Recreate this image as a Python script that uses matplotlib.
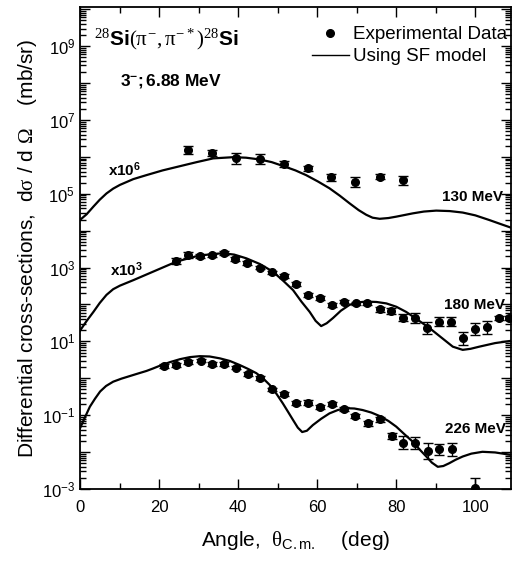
import numpy as np
import matplotlib
matplotlib.use('Agg')
import matplotlib.pyplot as plt
from matplotlib.lines import Line2D
from matplotlib.ticker import FixedLocator, LogLocator, FuncFormatter, MultipleLocator

plt.rcParams['font.family'] = 'Liberation Sans'
plt.rcParams['mathtext.fontset'] = 'custom'
plt.rcParams['mathtext.rm'] = 'Liberation Serif'
plt.rcParams['mathtext.it'] = 'Liberation Serif'
plt.rcParams['mathtext.bf'] = 'Liberation Sans:bold'
plt.rcParams['mathtext.sf'] = 'Liberation Sans'

# experimental data (130 MeV scaled x1e6, 180 MeV scaled x1e3)
x130 = [27.2, 33.4, 39.4, 45.5, 51.5, 57.6, 63.6, 69.6, 75.8, 81.6]
y130 = [1.55e6, 1.26e6, 9.1e5, 8.7e5, 6.3e5, 4.9e5, 2.8e5, 2.1e5, 2.9e5, 2.3e5]
e130 = [0.11, 0.08, 0.14, 0.14, 0.08, 0.06, 0.10, 0.13, 0.07, 0.12]   # dex

x180 = [24.4, 27.2, 30.3, 33.4, 36.4, 39.3, 42.3, 45.5, 48.6, 51.6, 54.7, 57.7,
        60.6, 63.7, 66.7, 69.7, 72.6, 75.8, 78.7, 81.6, 84.8, 87.8, 90.9, 93.9,
        97.0, 99.9, 102.9, 105.9, 108.6]
y180 = [1550, 2190, 2040, 2140, 2450, 1700, 1350, 1000, 740, 600, 355, 182,
        148, 98, 120, 107, 107, 74, 66, 44, 43, 23.4, 34, 34,
        12.0, 21.4, 24, 43, 43]
e180 = [0.08, 0.07, 0.06, 0.05, 0.05, 0.05, 0.05, 0.05, 0.05, 0.05, 0.05, 0.06,
        0.06, 0.06, 0.05, 0.05, 0.05, 0.07, 0.08, 0.10, 0.13, 0.16, 0.12, 0.12,
        0.18, 0.16, 0.17, 0.05, 0.05]

x226 = [21.2, 24.2, 27.2, 30.5, 33.4, 36.4, 39.4, 42.5, 45.5, 48.5, 51.7, 54.7,
        57.7, 60.6, 63.7, 66.8, 69.6, 72.9, 75.9, 78.9, 81.8, 84.8, 88.0, 90.9,
        94.0, 100.0]
y226 = [2.19, 2.29, 2.82, 3.02, 2.45, 2.40, 1.95, 1.32, 1.00, 0.50, 0.38, 0.21,
        0.22, 0.17, 0.20, 0.145, 0.095, 0.060, 0.078, 0.028, 0.018, 0.018, 0.0107, 0.012,
        0.012, 0.00105]
e226 = [0.05, 0.05, 0.05, 0.05, 0.05, 0.05, 0.05, 0.05, 0.05, 0.05, 0.05, 0.05,
        0.06, 0.05, 0.05, 0.05, 0.06, 0.06, 0.07, 0.08, 0.18, 0.16, 0.21, 0.15,
        0.18, 0.27]

# SF model curves
cx130 = [0, 1.7, 3.4, 5.0, 6.7, 8.4, 10.1, 13.5, 16.8, 20.9, 25.3, 29.5, 33.7, 38.7, 42.0,
         45.5, 48.5, 51.5, 54.5, 57.2, 60.2, 63.1, 65.7, 68.2, 70.5, 72.4, 74.0,
         75.8, 78.0, 80.0, 84.2, 87.0, 90.1, 93.5, 96.8, 100.0, 103.5, 106.5, 109.4]
cy130 = [1.95e4, 2.8e4, 4.5e4, 6.9e4, 1.02e5, 1.38e5, 1.74e5, 2.5e5, 3.2e5, 4.3e5, 5.6e5,
         7.2e5, 9.1e5, 9.8e5, 9.5e5, 8.5e5, 7.2e5, 5.6e5, 4.3e5, 3.2e5, 2.15e5, 1.41e5,
         8.9e4, 5.5e4, 3.6e4, 2.7e4, 2.25e4, 2.1e4, 2.2e4, 2.4e4, 2.95e4, 3.3e4, 3.5e4,
         3.4e4, 3.1e4, 2.6e4, 1.95e4, 1.5e4, 1.17e4]

cx180 = [0, 1.7, 3.4, 5.0, 6.7, 8.4, 10.1, 13.5, 18.5, 24.4, 29.5, 33.0, 36.2, 39.0,
         42.1, 45.5, 48.8, 51.5, 53.9, 56.0, 58.1, 59.6, 61.0, 62.4, 64.0, 66.0, 68.2,
         70.2, 72.4, 75.0, 77.5, 80.0, 82.5, 85.5, 88.4, 91.5, 94.3, 96.8, 98.8, 101.0,
         105.0, 109.4]
cy180 = [19.5, 36, 63, 110, 182, 260, 324, 457, 776, 1450, 2040, 2300, 2450, 2250,
         1780, 1250, 776, 430, 245, 120, 63, 36, 26, 31, 43, 68, 98, 114, 120, 117,
         107, 87, 63, 38, 23, 12.5, 7.2, 5.9, 6.3, 7.2, 9.0, 10.5]

cx226 = [0, 1.2, 2.5, 3.8, 5.1, 6.6, 8.4, 10.5, 12.6, 14.7, 16.8, 18.5, 20.2, 22.8, 25.3,
         27.8, 30.3, 32.8, 35.4, 37.9, 40.4, 42.5, 44.6, 46.3, 48.0, 49.7, 51.3, 52.7,
         53.9, 55.1, 56.2, 57.4, 58.9, 61.0, 63.1, 65.2, 67.3, 69.4, 71.5, 73.7, 75.8,
         78.0, 80.0, 82.0, 84.2, 86.0, 87.6, 89.0, 90.5, 91.9, 93.4, 95.0, 96.8, 99.0,
         101.8, 105.0, 109.4]
cy226 = [0.044, 0.085, 0.17, 0.28, 0.44, 0.62, 0.81, 0.98, 1.15, 1.35, 1.58, 1.85, 2.19,
         2.75, 3.3, 3.75, 3.98, 3.9, 3.47, 2.95, 2.29, 1.8, 1.38, 1.0, 0.66, 0.38, 0.21,
         0.12, 0.074, 0.046, 0.035, 0.038, 0.054, 0.08, 0.112, 0.138, 0.155, 0.152,
         0.138, 0.118, 0.095, 0.07, 0.049, 0.031, 0.019, 0.0115, 0.0076, 0.0052, 0.0040,
         0.0042, 0.0050, 0.0062, 0.0076, 0.0091, 0.0102, 0.0098, 0.0083]

fig = plt.figure(figsize=(5.14, 5.61), dpi=100)
ax = fig.add_axes([0.1556, 0.1283, 0.994 - 0.1556, 0.9875 - 0.1283])


def errbars(x, y, e):
    y = np.array(y)
    e = np.array(e)
    lo = y - y * 10 ** (-e)
    hi = y * 10 ** e - y
    ax.errorbar(x, y, yerr=[lo, hi], fmt='o', color='black', ms=5.5,
                elinewidth=1.0, capsize=3.5, capthick=1.0, zorder=3)


for cx, cy in [(cx130, cy130), (cx180, cy180), (cx226, cy226)]:
    ax.plot(cx, cy, color='black', lw=1.6, zorder=2)

errbars(x130, y130, e130)
errbars(x180, y180, e180)
errbars(x226, y226, e226)

ax.set_yscale('log')
ax.set_xlim(0, 109)
ax.set_ylim(1e-3, 1.15e10)

ax.xaxis.set_major_locator(MultipleLocator(20))
ax.xaxis.set_minor_locator(MultipleLocator(10))
ax.yaxis.set_major_locator(FixedLocator([10.0 ** k for k in range(-3, 11)]))
ax.yaxis.set_minor_locator(LogLocator(base=10, subs=np.arange(2, 10), numticks=30))


def ylab(v, pos):
    k = int(round(np.log10(v)))
    if k % 2 == 0:
        return ''
    return r'$\mathsf{10^{%d}}$' % k


ax.yaxis.set_major_formatter(FuncFormatter(ylab))
ax.yaxis.set_minor_formatter(FuncFormatter(lambda v, p: ''))

ax.tick_params(which='both', direction='in', top=True, right=True, labelsize=12, width=1.0)
ax.tick_params(which='major', length=7)
ax.tick_params(which='minor', length=4)
ax.tick_params(axis='x', pad=8)
for s in ax.spines.values():
    s.set_linewidth(1.3)

ax.set_xlabel(r'Angle,  $\theta_{\mathsf{C.m.}}$    (deg)', fontsize=15, labelpad=10)
ax.set_ylabel(r'Differential cross-sections,  d$\sigma$ / d $\Omega$    (mb/sr)', fontsize=15, labelpad=2)

ax.text(3.6, 10 ** 9.17, r'$^{28}\mathbf{Si}(\pi^{-},\pi^{-*})^{28}\mathbf{Si}$', fontsize=15,
        va='center', ha='left')
ax.text(10.0, 10 ** 8.05, r'$\mathbf{3}^{\mathbf{-}}\mathbf{;6.88\ MeV}$', fontsize=12.5,
        va='center', ha='left')

ax.text(7.2, 10 ** 5.64, r'$\mathbf{x10^{6}}$', fontsize=11, va='center', ha='left')
ax.text(7.6, 10 ** 2.93, r'$\mathbf{x10^{3}}$', fontsize=11, va='center', ha='left')
ax.text(107.0, 10 ** 4.91, '130 MeV', fontsize=11, fontweight='bold', va='center', ha='right')
ax.text(107.4, 10 ** 1.99, '180 MeV', fontsize=11, fontweight='bold', va='center', ha='right')
ax.text(107.8, 10 ** -1.37, '226 MeV', fontsize=11, fontweight='bold', va='center', ha='right')

handles = [Line2D([], [], ls='none', marker='o', color='black', ms=5.5),
           Line2D([], [], color='black', lw=1.0)]
ax.legend(handles, ['Experimental Data', 'Using SF model'], loc='upper right',
          bbox_to_anchor=(1.03, 0.995), frameon=False, fontsize=13.5, handlelength=2.0,
          handletextpad=0.2, labelspacing=0.25)

fig.savefig('out.png', dpi=100)
